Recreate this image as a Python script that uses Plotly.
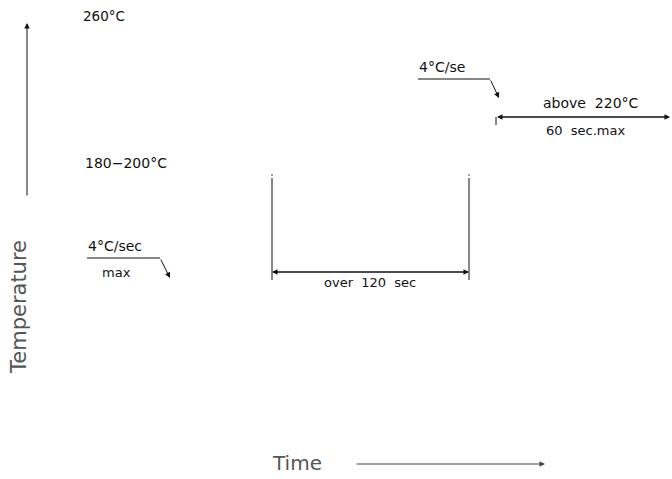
import plotly.graph_objects as go

W, H = 672, 479

# Text labels
labels_text = ["260°C", "180−200°C", "4°C/sec", "max", "4°C/se", "above  220°C", "60  sec.max", "over  120  sec", "Time", "Temperature"]
labels_x = [104, 126, 115, 116, 442, 591, 585, 370, 297, 19]
labels_y = [16, 163, 246, 272, 67, 103, 130, 282, 463, 307]
labels_size = [13.5, 14, 14, 13, 14, 14, 13, 13, 20, 21]
labels_color = ["#111", "#111", "#111", "#111", "#111", "#111", "#111", "#111", "#555", "#555"]
labels_angle = [0, 0, 0, 0, 0, 0, 0, 0, 0, -90]

# Plain line segments
seg_x0 = [87, 418, 272, 469, 496]
seg_y0 = [258, 79, 178, 178, 117]
seg_x1 = [160, 490, 272, 469, 496]
seg_y1 = [258, 79, 280, 280, 125]

# Arrows (tail -> head)
arr_tail_x = [27, 160, 490, 355, 272, 469, 497, 670]
arr_tail_y = [197, 258, 79, 464, 272, 272, 117, 117]
arr_head_x = [27, 170, 499, 545, 469, 272, 670, 497]
arr_head_y = [23, 278, 98, 464, 272, 272, 117, 117]

fig = go.Figure()

for x0, y0, x1, y1 in zip(seg_x0, seg_y0, seg_x1, seg_y1):
    fig.add_trace(go.Scatter(x=[x0, x1], y=[y0, y1], mode="lines",
                             line=dict(color="#111", width=1), hoverinfo="skip",
                             showlegend=False))

# small dots atop the vertical lines
fig.add_trace(go.Scatter(x=[272, 469], y=[175, 175], mode="markers",
                         marker=dict(color="#111", size=1.5), hoverinfo="skip",
                         showlegend=False))

annotations = []
for tx, ty, hx, hy in zip(arr_tail_x, arr_tail_y, arr_head_x, arr_head_y):
    annotations.append(dict(x=hx, y=hy, ax=tx, ay=ty, xref="x", yref="y",
                            axref="x", ayref="y", text="", showarrow=True,
                            arrowhead=2, arrowsize=1.1, arrowwidth=1,
                            arrowcolor="#111" if ty != 464 else "#444"))

for t, x, y, s, c, a in zip(labels_text, labels_x, labels_y, labels_size, labels_color, labels_angle):
    annotations.append(dict(x=x, y=y, xref="x", yref="y", text=t, showarrow=False,
                            textangle=a, xanchor="center", yanchor="middle",
                            font=dict(family="DejaVu Sans", size=s, color=c)))

fig.update_layout(
    width=W, height=H,
    margin=dict(l=0, r=0, t=0, b=0),
    paper_bgcolor="white", plot_bgcolor="white",
    xaxis=dict(range=[0, W], visible=False, fixedrange=True),
    yaxis=dict(range=[H, 0], visible=False, fixedrange=True),
    annotations=annotations,
)

fig.write_html("out.html", config={"displayModeBar": False},
               post_script="document.body.style.margin='0';document.body.style.overflow='hidden';")
